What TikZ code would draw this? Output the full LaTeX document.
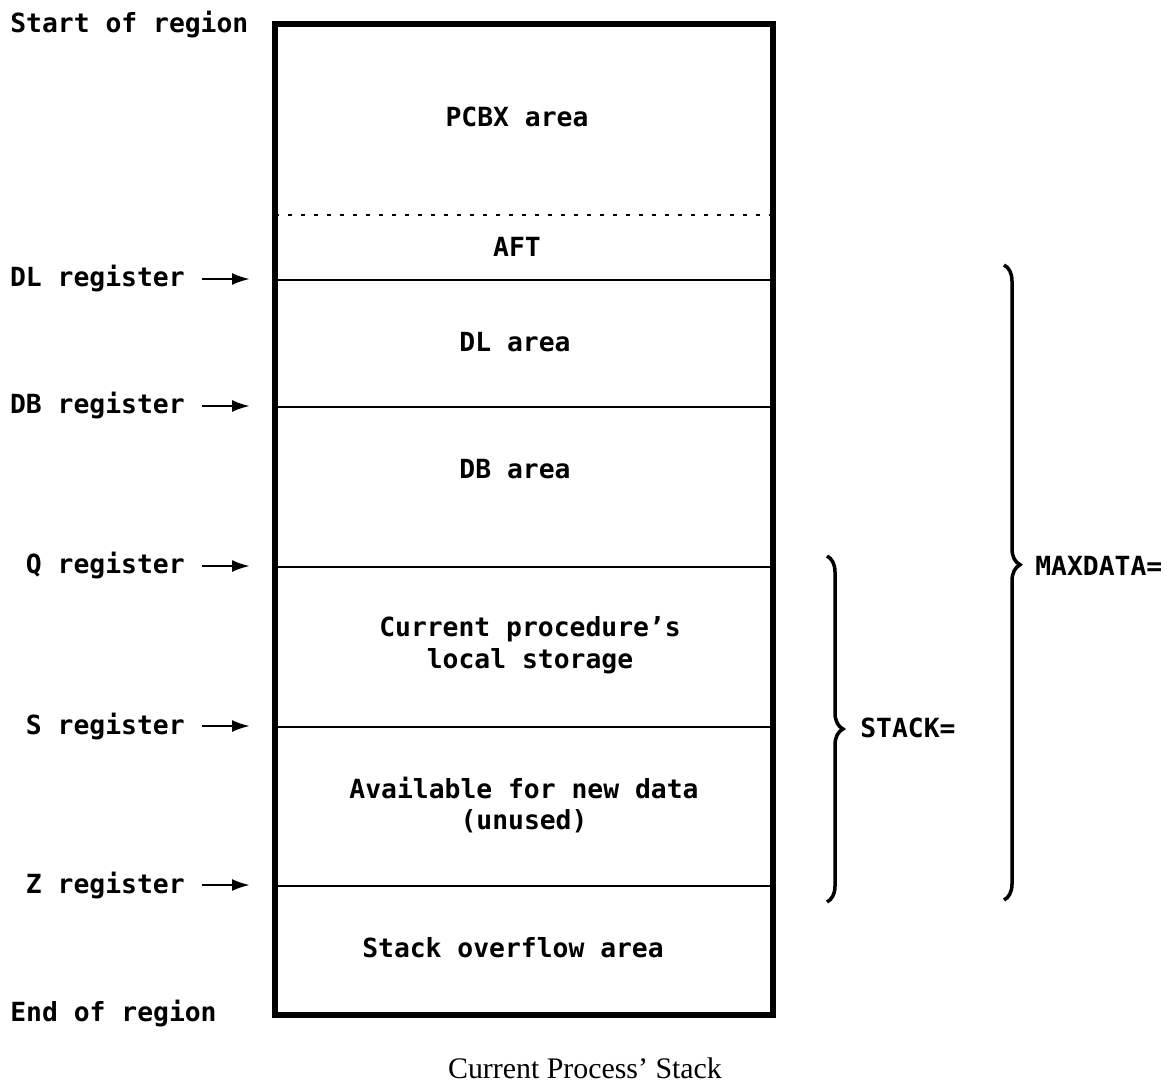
\documentclass[tikz,border=0pt]{standalone}
\usepackage{fontspec}
\setmainfont{Liberation Serif}
\newfontfamily\regfont{DejaVu Sans Mono}
\usepackage{tikz}
\usetikzlibrary{positioning,arrows.meta,decorations.pathreplacing,calc}

\begin{document}
\begin{tikzpicture}[
  x=0.02cm, y=-0.02cm,
  every node/.style={inner sep=0pt, font=\regfont\bfseries\fontsize{15}{18}\selectfont},
  area/.style={align=center},
  reg/.style={anchor=east, inner xsep=0.34cm},
  limit/.style={anchor=base west},
  ptr/.style={-{Latex[length=0.36cm, width=0.24cm]}, line width=1.4pt, shorten >=0.5cm},
  sep/.style={line width=1.2pt},
  span/.style={decorate, decoration={brace, amplitude=0.32cm}, line width=2pt},
  caption/.style={font=\rmfamily\fontsize{17}{20}\selectfont}
]
\useasboundingbox (0,0) rectangle (1172,1089);

% corners of the region
\coordinate (nw) at (275,24);
\coordinate (se) at (773,1015);

% register positions
\coordinate (aft) at (275,215);
\coordinate (dl) at (275,280);
\coordinate (db) at (275,407);
\coordinate (q) at (275,567);
\coordinate (s) at (275,727);
\coordinate (z) at (275,886);

% separators
\draw[sep, line width=1.5pt, dash pattern=on 0.08cm off 0.18cm] (aft) -- (aft -| se);
\draw[sep] (dl) -- (dl -| se);
\draw[sep] (db) -- (db -| se);
\draw[sep] (q) -- (q -| se);
\draw[sep] (s) -- (s -| se);
\draw[sep] (z) -- (z -| se);
\draw[line width=3.4pt] (nw) rectangle (se);

% contents
\node[area] (pcbx) at (517,117) {PCBX area};
\node[area] (aftarea) at (517,247) {AFT};
\node[area] (dlarea) at (515,342) {DL area};
\node[area] (dbarea) at (515,469) {DB area};
\node[area] (local) at (530,645) {Current procedure’s\\local storage};
\node[area] (free) at (524,805) {Available for new data\\(unused)};
\node[area] (overflow) at (513,948) {Stack overflow area};

% left labels
\node[limit] (start) at (10,32) {Start of region};
\node[limit] (end) at (10,1021) {End of region};
\node[reg] (dlreg) at (202,279) {DL register};
\node[reg] (dbreg) at (202,406) {DB register};
\node[reg] (qreg) at (202,566) {Q register};
\node[reg] (sreg) at (202,726) {S register};
\node[reg] (zreg) at (202,885) {Z register};

\draw[ptr] (dlreg.east) -- (dlreg.east -| dl);
\draw[ptr] (dbreg.east) -- (dbreg.east -| db);
\draw[ptr] (qreg.east) -- (qreg.east -| q);
\draw[ptr] (sreg.east) -- (sreg.east -| s);
\draw[ptr] (zreg.east) -- (zreg.east -| z);

% braces on the right
\coordinate (stacktop) at (827,556);
\coordinate (stackbot) at (827,902);
\coordinate (maxtop) at (1004,265);
\coordinate (maxbot) at (1004,900);
\draw[span] (stacktop) -- (stackbot);
\draw[span, decoration={aspect=0.472}] (maxtop) -- (maxbot);
\node[anchor=west] (stack) at (860,728) {STACK=};
\node[anchor=west] (maxdata) at (1035,566) {MAXDATA=};

\node[caption] (cap) at (585,1068) {Current Process’ Stack};
\end{tikzpicture}
\end{document}
